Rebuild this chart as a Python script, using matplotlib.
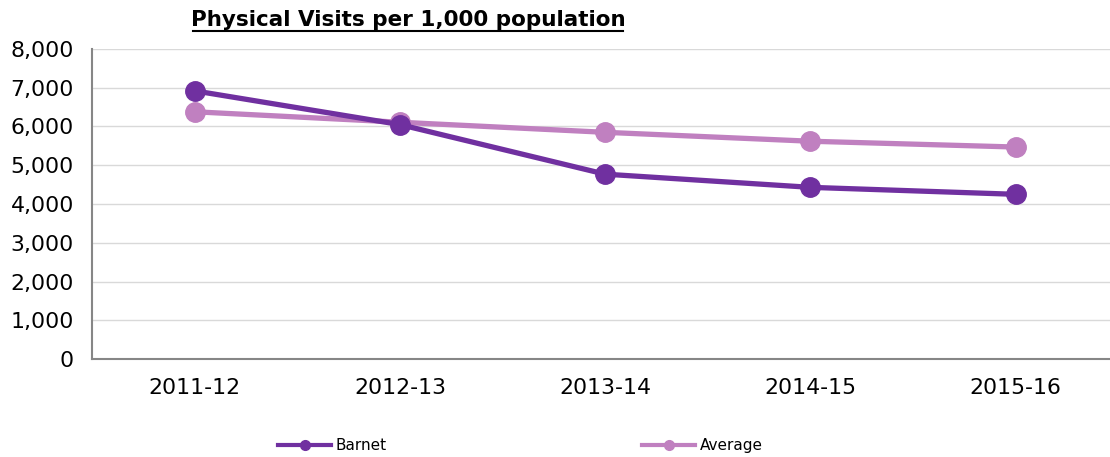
import matplotlib
matplotlib.use('Agg')
import matplotlib.pyplot as plt
from matplotlib import rcParams

rcParams['font.family'] = ['DejaVu Sans']

### Data ###
years = ['2011-12', '2012-13', '2013-14', '2014-15', '2015-16']
barnet = [6920, 6050, 4770, 4430, 4250]
average = [6380, 6110, 5850, 5620, 5470]
yticks = [0, 1000, 2000, 3000, 4000, 5000, 6000, 7000, 8000]

c_barnet = '#7030A0'
c_avg = '#C080C0'

fig = plt.figure(figsize=(11.1, 4.57), dpi=100)
ax = fig.add_axes([0.0829, 0.2144, 0.9245, 0.6784])

x = list(range(len(years)))
ax.plot(x, average, color=c_avg, lw=3.8, marker='o', ms=14, label='Average', zorder=3)
ax.plot(x, barnet, color=c_barnet, lw=3.8, marker='o', ms=14, label='Barnet', zorder=4)

ax.set_xlim(-0.5, 4.5)
ax.set_ylim(0, 8000)
ax.set_yticks(yticks)
ax.set_yticklabels([f'{v:,}' for v in yticks])
ax.set_xticks(x)
ax.set_xticklabels(years)
ax.tick_params(axis='both', length=0, labelsize=15.8)
ax.tick_params(axis='y', pad=13)
ax.tick_params(axis='x', pad=14)
ax.grid(axis='y', color='#D9D9D9', lw=1)
ax.set_axisbelow(True)
for s in ['top', 'right']:
    ax.spines[s].set_visible(False)
for s in ['left', 'bottom']:
    ax.spines[s].set_color('#868686')
    ax.spines[s].set_linewidth(1.5)

fig.text(0.368, 0.956, 'Physical Visits per 1,000 population', ha='center', va='center',
         fontsize=15.5, fontweight='bold')
fig.add_artist(plt.Line2D([0.174, 0.561], [0.933, 0.933], color='black', lw=1.5))

### Legend built by hand (two entries spread out) ###
h_b = plt.Line2D([], [], color=c_barnet, lw=3, marker='o', ms=7)
h_a = plt.Line2D([], [], color=c_avg, lw=3, marker='o', ms=7)
l1 = fig.legend([h_b], ['Barnet'], loc='center left', bbox_to_anchor=(0.238, 0.025),
                frameon=False, fontsize=11, handlelength=3.5, handletextpad=0.3)
l2 = fig.legend([h_a], ['Average'], loc='center left', bbox_to_anchor=(0.566, 0.025),
                frameon=False, fontsize=11, handlelength=3.5, handletextpad=0.3)

plt.savefig('out.png', dpi=100)
